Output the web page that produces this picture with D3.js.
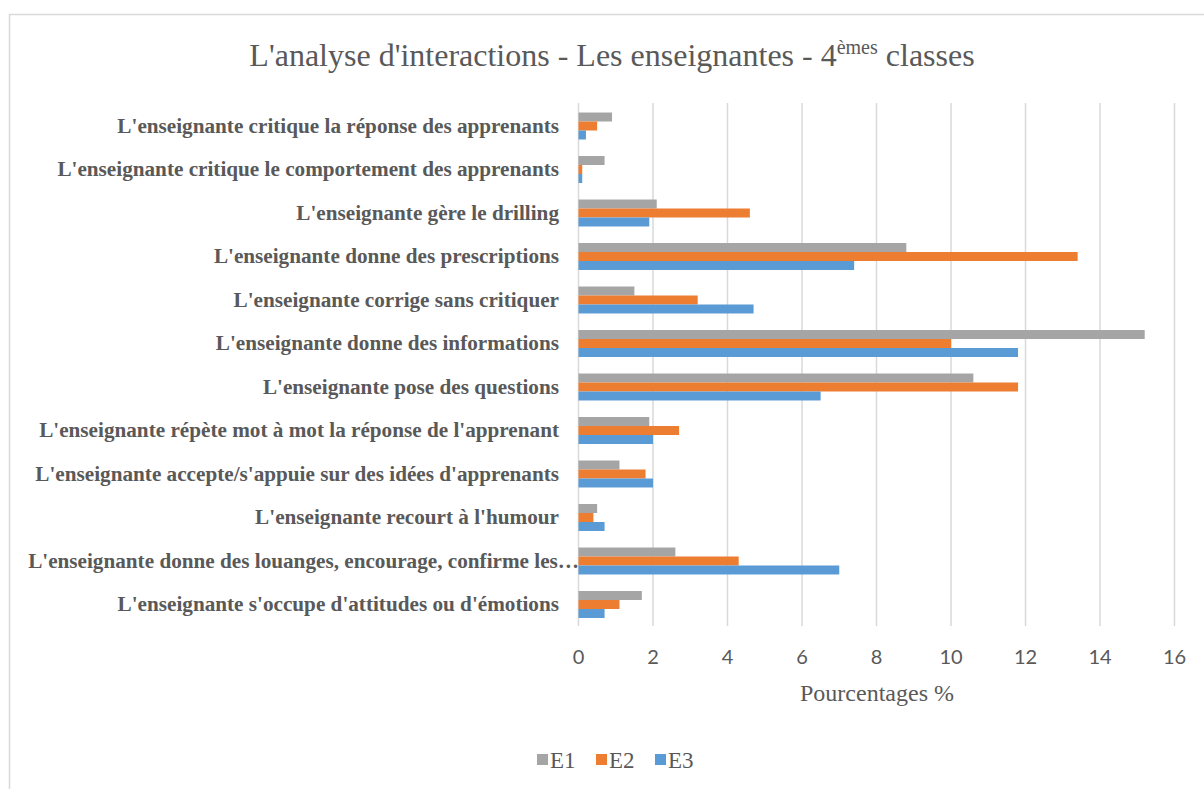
<!DOCTYPE html>
<html>
<head>
<meta charset="utf-8">
<script src="https://cdn.jsdelivr.net/npm/d3@7"></script>
<style>
  body { margin: 0; background: #fff; }
  svg { display: block; }
</style>
</head>
<body>
<svg id="chart" width="1204" height="789"></svg>
<script>
// categories, top to bottom
const categories = [
  "L'enseignante critique la réponse des apprenants",
  "L'enseignante critique le comportement des apprenants",
  "L'enseignante gère le drilling",
  "L'enseignante donne des prescriptions",
  "L'enseignante corrige sans critiquer",
  "L'enseignante donne des informations",
  "L'enseignante pose des questions",
  "L'enseignante répète mot à mot la réponse de l'apprenant",
  "L'enseignante accepte/s'appuie sur des idées d'apprenants",
  "L'enseignante recourt à l'humour",
  "L'enseignante donne des louanges, encourage, confirme les…",
  "L'enseignante s'occupe d'attitudes ou d'émotions"
];
const seriesNames = ["E1", "E2", "E3"];
const seriesColors = ["#a5a5a5", "#ed7d31", "#5b9bd5"];
const e1 = [0.9, 0.7, 2.1, 8.8, 1.5, 15.2, 10.6, 1.9, 1.1, 0.5, 2.6, 1.7];
const e2 = [0.5, 0.1, 4.6, 13.4, 3.2, 10.0, 11.8, 2.7, 1.8, 0.4, 4.3, 1.1];
const e3 = [0.2, 0.1, 1.9, 7.4, 4.7, 11.8, 6.5, 2.0, 2.0, 0.7, 7.0, 0.7];
const xTicks = [0, 2, 4, 6, 8, 10, 12, 14, 16];

const seriesValues = [e1, e2, e3];
const svg = d3.select("#chart");

// chart frame (only left and top edges visible)
svg.append("rect")
  .attr("x", 9.5).attr("y", 14.5)
  .attr("width", 1300).attr("height", 900)
  .attr("fill", "none").attr("stroke", "#d9d9d9").attr("stroke-width", 1.5);

const x = d3.scaleLinear().domain([0, 16]).range([578.5, 1174.5]);
const y = d3.scaleBand().domain(categories).range([104.25, 626.25])
  .paddingInner(0.38).paddingOuter(0.19);
const ySub = d3.scaleBand().domain(seriesNames).range([0, y.bandwidth()]);

// gridlines
svg.append("g")
  .selectAll("line")
  .data(xTicks)
  .join("line")
  .attr("x1", d => x(d)).attr("x2", d => x(d))
  .attr("y1", 103).attr("y2", 626)
  .attr("stroke", "#d9d9d9").attr("stroke-width", 1.5);

// bars
const rows = categories.map((c, i) => ({ cat: c, vals: seriesValues.map(s => s[i]) }));
const groups = svg.append("g").selectAll("g")
  .data(rows)
  .join("g")
  .attr("transform", d => "translate(0," + y(d.cat) + ")");

groups.selectAll("rect")
  .data(d => d.vals.map((v, j) => ({ v: v, name: seriesNames[j], color: seriesColors[j] })))
  .join("rect")
  .attr("x", x(0))
  .attr("y", d => ySub(d.name))
  .attr("width", d => x(d.v) - x(0))
  .attr("height", ySub.bandwidth())
  .attr("fill", d => d.color);

// category labels (the truncated one spills a bit past the others, like Excel)
svg.append("g")
  .selectAll("text")
  .data(categories)
  .join("text")
  .attr("x", d => d.endsWith("…") ? 579 : 559)
  .attr("y", d => y(d) + y.bandwidth() / 2)
  .attr("dy", "0.33em")
  .attr("text-anchor", "end")
  .attr("font-family", "'Liberation Serif', 'Times New Roman', serif")
  .attr("font-weight", "bold")
  .attr("font-size", 21.2)
  .attr("fill", "#595959")
  .text(d => d);

// x tick labels
svg.append("g")
  .selectAll("text")
  .data(xTicks)
  .join("text")
  .attr("x", d => x(d))
  .attr("y", 664)
  .attr("text-anchor", "middle")
  .attr("font-family", "Lato, 'Open Sans', sans-serif")
  .attr("font-size", 20)
  .attr("fill", "#595959")
  .text(d => d);

// axis title
svg.append("text")
  .attr("x", 877).attr("y", 701)
  .attr("text-anchor", "middle")
  .attr("font-family", "'Liberation Serif', 'Times New Roman', serif")
  .attr("font-size", 24)
  .attr("fill", "#595959")
  .text("Pourcentages %");

// title
const title = svg.append("text")
  .attr("x", 612).attr("y", 66)
  .attr("text-anchor", "middle")
  .attr("font-family", "'Liberation Serif', 'Times New Roman', serif")
  .attr("font-size", 32)
  .attr("fill", "#595959");
title.append("tspan").text("L'analyse d'interactions - Les enseignantes - 4");
title.append("tspan").attr("font-size", 20).attr("dy", -12).text("èmes");
title.append("tspan").attr("dy", 12).text(" classes");

// legend
const legend = svg.append("g").attr("transform", "translate(537,768)");
const items = legend.selectAll("g")
  .data(seriesNames)
  .join("g")
  .attr("transform", (d, i) => "translate(" + (i * 59) + ",0)");
items.append("rect")
  .attr("x", 0).attr("y", -14)
  .attr("width", 11).attr("height", 11)
  .attr("fill", (d, i) => seriesColors[i]);
items.append("text")
  .attr("x", 13).attr("y", 0)
  .attr("font-family", "'Liberation Serif', 'Times New Roman', serif")
  .attr("font-size", 23)
  .attr("fill", "#595959")
  .text(d => d);
</script>
</body>
</html>
